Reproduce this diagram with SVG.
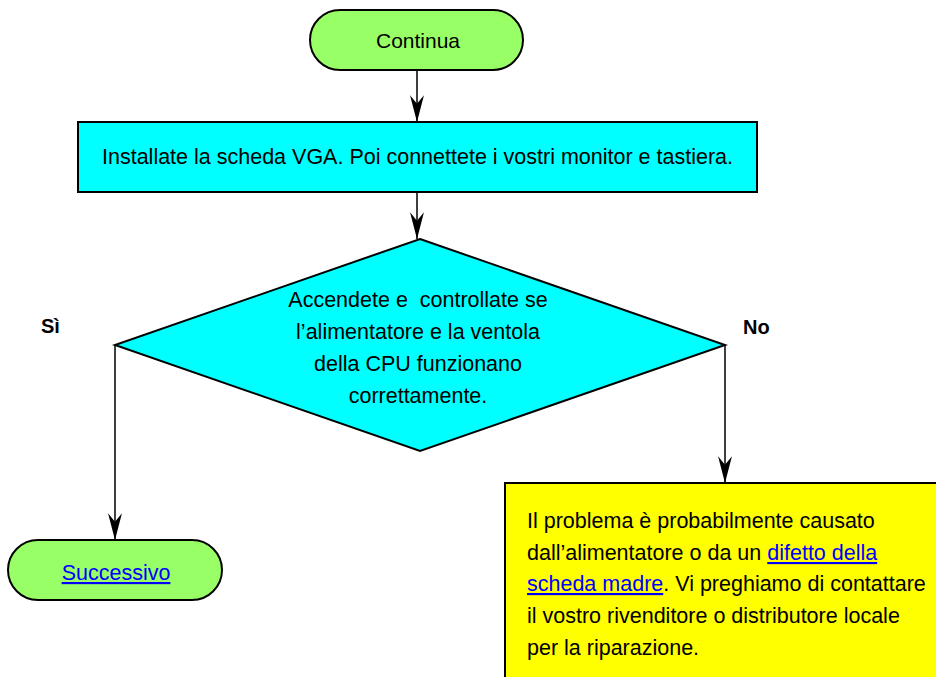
<svg xmlns="http://www.w3.org/2000/svg" width="936" height="677" viewBox="0 0 936 677">
<defs>
<style>
.t{font-family:"Liberation Sans",Arial,sans-serif;font-size:21.5px;fill:#000;white-space:pre}
.c{text-anchor:middle}
.b{font-weight:bold;font-size:20px}
.lnk{fill:#0000FF;text-decoration:underline}
.term{fill:#99FF66;stroke:#000;stroke-width:2}
.proc{fill:#00FFFF;stroke:#000;stroke-width:2}
.note{fill:#FFFF00;stroke:#000;stroke-width:2}
.edge{fill:none;stroke:#000;stroke-width:1.5;marker-end:url(#ah)}
</style>
<marker id="ah" markerUnits="userSpaceOnUse" markerWidth="30" markerHeight="20" viewBox="-26 -8 28 16" refX="0" refY="0" orient="auto">
<path d="M0,0 L-25,-6.5 L-17,0 L-25,6.5 Z" fill="#000"/>
</marker>
</defs>
<rect width="936" height="677" fill="#fff"/>
<g id="connectors">
<line class="edge" x1="417" y1="70" x2="417" y2="122"/>
<line class="edge" x1="417" y1="193" x2="417" y2="239"/>
<polyline class="edge" points="115,345 115,540"/>
<polyline class="edge" points="725,345 725,483"/>
</g>
<g id="continua">
<rect class="term" x="310" y="10" width="213" height="60" rx="30" ry="30"/>
<text class="t c" x="418" y="48" style="font-size:21px">Continua</text>
</g>
<g id="installate">
<rect class="proc" x="78" y="122" width="679" height="70"/>
<text class="t c" x="417.5" y="164">Installate la scheda VGA. Poi connettete i vostri monitor e tastiera.</text>
</g>
<g id="decisione">
<polygon class="proc" points="420,239 725,345 420,451 115,345"/>
<text class="t c" x="418" y="307">Accendete e  controllate se</text>
<text class="t c" x="418" y="339">l’alimentatore e la ventola</text>
<text class="t c" x="418" y="371">della CPU funzionano</text>
<text class="t c" x="418" y="403">correttamente.</text>
</g>
<g id="label-si">
<text class="t b" x="41" y="333">Sì</text>
</g>
<g id="label-no">
<text class="t b" x="743" y="334">No</text>
</g>
<g id="successivo">
<rect class="term" x="8" y="540" width="214" height="60" rx="30" ry="30"/>
<text class="t c lnk" x="116" y="580">Successivo</text>
</g>
<g id="problema">
<rect class="note" x="505" y="483" width="445" height="210"/>
<text class="t" x="527" y="528">Il problema è probabilmente causato</text>
<text class="t" x="527" y="560">dall’alimentatore o da un <tspan class="lnk">difetto della</tspan></text>
<text class="t" x="527" y="591"><tspan class="lnk">scheda madre</tspan>. Vi preghiamo di contattare</text>
<text class="t" x="527" y="623">il vostro rivenditore o distributore locale</text>
<text class="t" x="527" y="655">per la riparazione.</text>
</g>
</svg>
